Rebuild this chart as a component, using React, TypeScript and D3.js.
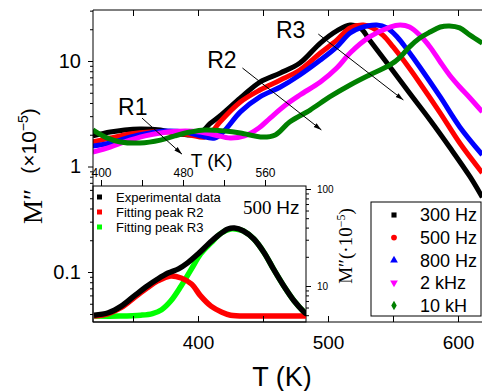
import { useEffect, useRef } from 'react';
import * as d3 from 'd3';

// main panel: M'' (x10^-5) vs T (K) on the inner T axis, one curve per frequency
const hz300 = [[392, 1.95], [409, 2.12], [423, 2.22], [438, 2.27], [458, 2.22], [472, 2.08], [487, 1.99], [497, 2.08], [506, 2.53], [516, 3.01], [536, 4.46], [555, 6.32], [575, 7.7], [594, 9.57], [614, 14.8], [630, 19.3], [643, 21.9], [653, 20.6], [662, 15.8], [682, 8.77], [701, 4.97], [721, 2.76], [740, 1.53], [760, 0.8], [772, 0.51]];
const hz500 = [[392, 1.71], [409, 1.86], [428, 2.03], [448, 2.12], [467, 2.12], [487, 1.99], [501, 1.9], [508, 2.12], [516, 2.64], [536, 4.09], [555, 5.31], [575, 6.6], [594, 8.22], [614, 11.9], [630, 15.8], [643, 20.6], [656, 21.9], [665, 20.6], [675, 17.6], [685, 13.6], [695, 10.2], [711, 6.19], [731, 3.21], [750, 1.67], [772, 0.87]];
const hz800 = [[392, 1.56], [409, 1.67], [428, 1.9], [448, 2.08], [462, 2.17], [482, 2.12], [497, 1.95], [511, 1.86], [521, 2.22], [536, 3.29], [555, 4.56], [575, 5.67], [594, 7.37], [614, 10.2], [630, 13.6], [643, 18.4], [653, 20.6], [669, 21.9], [679, 20.6], [689, 16.9], [699, 12.7], [711, 8.77], [731, 4.56], [750, 2.37], [772, 1.29]];
const khz2 = [[392, 1.37], [409, 1.53], [423, 1.71], [443, 1.95], [458, 2.08], [482, 2.17], [497, 2.12], [511, 1.99], [526, 1.86], [540, 1.95], [554, 2.32], [565, 2.88], [580, 3.83], [594, 4.76], [614, 6.32], [630, 8.58], [643, 11.9], [662, 16.9], [682, 21.0], [692, 21.9], [701, 21.0], [711, 17.6], [721, 13.6], [731, 9.78], [740, 7.37], [750, 5.67], [760, 4.46], [772, 3.29]];
const khz10 = [[392, 2.22], [404, 1.9], [419, 1.71], [438, 1.67], [458, 1.78], [472, 1.95], [487, 2.12], [501, 2.22], [521, 2.17], [536, 2.08], [558, 1.9], [570, 1.99], [584, 2.64], [604, 3.43], [623, 4.56], [643, 5.92], [662, 7.37], [682, 9.17], [692, 10.9], [701, 13.6], [711, 16.5], [721, 18.8], [731, 21.0], [740, 21.5], [750, 20.6], [760, 17.6], [772, 14.8]];
const freqLabels = ['300 Hz', '500 Hz', '800 Hz', '2 kHz', '10 kH'];
const freqColors = ['#000000', '#ff0000', '#0000ff', '#ff00ff', '#008000'];

// inset: 500 Hz fit, M'' (·10^-5) vs T (K)
const expData = [[320, 5.0], [331, 5.3], [341, 6.2], [351, 7.9], [361, 10], [369, 11.8], [377, 13.6], [385, 15.0], [392, 17.3], [400, 21.4], [408, 27.1], [415, 32.8], [423, 38.7], [428, 39.6], [435, 36.9], [443, 30.5], [451, 21.9], [458, 15.0], [466, 10], [474, 7.0], [481, 5.5], [484, 5.1]];
const peakR2 = [[320, 4.9], [331, 5.2], [341, 6.0], [351, 7.6], [361, 9.6], [369, 11.3], [379, 12.7], [387, 12.1], [395, 10.5], [402, 7.9], [410, 6.2], [418, 5.4], [425, 5.0], [440, 4.9], [460, 4.9], [484, 4.9]];
const peakR3 = [[320, 4.9], [340, 4.9], [356, 5.0], [365, 5.2], [372, 5.7], [379, 7.0], [387, 10], [395, 15], [402, 21.4], [410, 27.8], [418, 35.2], [425, 38.7], [430, 38.5], [435, 36.9], [443, 30.5], [451, 21.9], [458, 15.0], [466, 10], [474, 7.0], [481, 5.5], [484, 5.1]];
const insetLabels = ['Experimental data', 'Fitting peak R2', 'Fitting peak R3'];
const insetColors = ['#000000', '#ff0000', '#00ff00'];

// ticks
const xTicks = [350, 400, 450, 500, 550, 600];
const xTickLabels = ['400', '500', '600'];
const yTicks = [0.1, 1, 10];
const yTickLabels = ['0.1', '1', '10'];
const innerTicks = [400, 440, 480, 520, 560];
const innerTickLabels = ['400', '480', '560'];
const insetYTicks = [10, 100];

// arrows [T0, v0, T1, v1] on the inner axis, with their labels
const arrows = [[440, 2.88, 479, 1.31], [538, 8.58, 615, 2.22], [612, 18.0, 695, 4.27]];
const arrowLabels = [['R1', 431, 3.66], ['R2', 518, 10.2], ['R3', 585, 19.7]];

const sans = '"Liberation Sans", Arial, sans-serif';
const serif = '"Liberation Serif", "Times New Roman", serif';

export default function App() {
  const svgRef = useRef(null);

  useEffect(() => {
    const svg = d3.select(svgRef.current);
    svg.selectAll('*').remove();

    const left = 93, top = 10, bottom = 322, right = 482;
    const x = d3.scaleLinear().domain([400, 600]).range([198, 458]);
    const y = d3.scaleLog().domain([0.1, 10]).range([272, 61]);
    const xT = d3.scaleLinear().domain([400, 560]).range([101, 265]);
    const yIn = d3.scaleLog().domain([10, 100]).range([286, 189]);
    const ins = { x0: 93, x1: 306, y0: 186, y1: 322 };

    const defs = svg.append('defs');
    defs.append('clipPath').attr('id', 'clip-main').append('rect')
      .attr('x', left).attr('y', top).attr('width', right - left + 10).attr('height', bottom - top);
    defs.append('clipPath').attr('id', 'clip-in').append('rect')
      .attr('x', ins.x0).attr('y', ins.y0).attr('width', ins.x1 - ins.x0).attr('height', ins.y1 - ins.y0);
    defs.append('marker').attr('id', 'arrow').attr('viewBox', '0 0 10 10')
      .attr('refX', 10).attr('refY', 5).attr('markerWidth', 8).attr('markerHeight', 8)
      .attr('orient', 'auto').append('path').attr('d', 'M0,2L10,5L0,8Z').attr('fill', '#000');

    svg.append('rect').attr('width', 482).attr('height', 391).attr('fill', '#fff');

    const styleAxis = (g, size, family) => {
      g.select('.domain').remove();
      g.selectAll('line').attr('stroke', '#000');
      g.selectAll('text').attr('fill', '#000').style('font-size', size + 'px').style('font-family', family);
    };

    // main curves
    const line = d3.line().x(d => xT(d[0])).y(d => y(d[1])).curve(d3.curveCatmullRom.alpha(0.5));
    const gMain = svg.append('g').attr('clip-path', 'url(#clip-main)');
    [hz300, hz500, hz800, khz2, khz10].forEach((s, i) => {
      gMain.append('path').datum(s)
        .attr('fill', 'none').attr('stroke', freqColors[i]).attr('stroke-width', 5)
        .attr('stroke-linejoin', 'round').attr('d', line);
    });

    // arrows and labels
    arrows.forEach(a => {
      svg.append('line')
        .attr('x1', xT(a[0])).attr('y1', y(a[1])).attr('x2', xT(a[2])).attr('y2', y(a[3]))
        .attr('stroke', '#000').attr('stroke-width', 1).attr('marker-end', 'url(#arrow)');
    });
    arrowLabels.forEach(l => {
      svg.append('text').attr('x', xT(l[1])).attr('y', y(l[2])).attr('dy', '0.36em')
        .attr('text-anchor', 'middle').style('font-family', sans).style('font-size', '23px').text(l[0]);
    });

    // inner T axis
    const gInner = svg.append('g').attr('transform', `translate(0,${ins.y0})`)
      .call(d3.axisTop(xT).tickValues(innerTicks).tickSize(6).tickPadding(3)
        .tickFormat(d => innerTickLabels.includes(String(d)) ? String(d) : ''));
    styleAxis(gInner, 12, sans);
    svg.append('text').attr('x', xT(508)).attr('y', y(1.15)).attr('dy', '0.36em')
      .attr('text-anchor', 'middle').style('font-family', sans).style('font-size', '19px').text('T (K)');

    // inset
    svg.append('rect').attr('x', ins.x0).attr('y', ins.y0).attr('width', ins.x1 - ins.x0).attr('height', ins.y1 - ins.y0)
      .attr('fill', '#fff').attr('stroke', '#000').attr('stroke-width', 1);
    const lineIn = d3.line().x(d => x(d[0])).y(d => yIn(d[1])).curve(d3.curveCatmullRom.alpha(0.5));
    const gIn = svg.append('g').attr('clip-path', 'url(#clip-in)');
    [[peakR3, 2], [peakR2, 1], [expData, 0]].forEach(([s, i]) => {
      gIn.append('path').datum(s).attr('fill', 'none').attr('stroke', insetColors[i])
        .attr('stroke-width', 5.5).attr('d', lineIn);
    });
    const gInY = svg.append('g').attr('transform', `translate(${ins.x1},0)`)
      .call(d3.axisRight(yIn).tickValues(insetYTicks).tickSize(5).tickPadding(6).tickFormat(d3.format('d')));
    styleAxis(gInY, 10, sans);
    const gInYm = svg.append('g').attr('transform', `translate(${ins.x1},0)`)
      .call(d3.axisRight(yIn).tickValues([5, 6, 7, 8, 9, 20, 30, 40, 50, 60, 70, 80, 90]).tickSize(3).tickFormat(() => ''));
    styleAxis(gInYm, 10, sans);
    const rt = svg.append('text').attr('transform', 'translate(352,246) rotate(-90)')
      .attr('text-anchor', 'middle').style('font-family', serif).style('font-size', '19px');
    rt.append('tspan').text('M\u2033(\u00b710');
    rt.append('tspan').attr('dy', -7).style('font-size', '12px').text('\u22125');
    rt.append('tspan').attr('dy', 7).text(')');

    insetLabels.forEach((t, i) => {
      const yy = 197 + i * 15;
      svg.append('rect').attr('x', 97).attr('y', yy - 2.5).attr('width', 5).attr('height', 5).attr('fill', insetColors[i]);
      svg.append('text').attr('x', 116).attr('y', yy).attr('dy', '0.36em')
        .style('font-family', sans).style('font-size', '13px').text(t);
    });
    const hzT = svg.append('text').attr('x', 243).attr('y', 214).style('font-size', '19px');
    hzT.append('tspan').style('font-family', serif).text('500 ');
    hzT.append('tspan').style('font-family', sans).text('Hz');

    // legend
    svg.append('rect').attr('x', 371).attr('y', 202).attr('width', 110).attr('height', 114)
      .attr('fill', '#fff').attr('stroke', '#000').attr('stroke-width', 1);
    const shapes = [d3.symbolSquare, d3.symbolCircle, d3.symbolTriangle, d3.symbolTriangle, d3.symbolDiamond];
    freqLabels.forEach((t, i) => {
      const yy = 215 + i * 22.6;
      svg.append('path').attr('d', d3.symbol(shapes[i], 26)())
        .attr('transform', `translate(394,${yy})${i === 3 ? ' rotate(180)' : ''}`).attr('fill', freqColors[i]);
      svg.append('text').attr('x', 420).attr('y', yy).attr('dy', '0.36em')
        .style('font-family', sans).style('font-size', '18px').text(t);
    });

    // main axes
    const gL = svg.append('g').attr('transform', `translate(${left},0)`)
      .call(d3.axisLeft(y).tickValues(yTicks).tickSize(5).tickPadding(7)
        .tickFormat((d, i) => yTickLabels[i]));
    styleAxis(gL, 20, sans);
    const minorY = [0.04, 0.05, 0.06, 0.07, 0.08, 0.09, 0.2, 0.3, 0.4, 0.5, 0.6, 0.7, 0.8, 0.9, 2, 3, 4, 5, 6, 7, 8, 9, 20, 30];
    const gLm = svg.append('g').attr('transform', `translate(${left},0)`)
      .call(d3.axisLeft(y).tickValues(minorY).tickSize(3).tickFormat(() => ''));
    styleAxis(gLm, 10, sans);

    const gB = svg.append('g').attr('transform', `translate(0,${bottom})`)
      .call(d3.axisBottom(x).tickValues(xTicks).tickSize(-6).tickPadding(14)
        .tickFormat(d => xTickLabels.includes(String(d)) ? String(d) : ''));
    styleAxis(gB, 19, sans);
    const gT = svg.append('g').attr('transform', `translate(0,${top})`)
      .call(d3.axisTop(x).tickValues(xTicks).tickSize(-6).tickFormat(() => ''));
    styleAxis(gT, 10, sans);

    svg.append('path').attr('d', `M${right + 5},${top}H${left}V${bottom}H${right + 5}`)
      .attr('fill', 'none').attr('stroke', '#000').attr('stroke-width', 1);

    // axis titles
    svg.append('text').attr('x', 282).attr('y', 386).attr('text-anchor', 'middle')
      .style('font-family', sans).style('font-size', '27px').text('T (K)');
    svg.append('text').attr('transform', 'translate(42,224) rotate(-90)')
      .style('font-family', serif).style('font-size', '27px').text('M\u2033');
    const yl = svg.append('text').attr('transform', 'translate(36,141) rotate(-90)')
      .attr('text-anchor', 'middle').style('font-family', sans).style('font-size', '21px');
    yl.append('tspan').text('(\u00d710');
    yl.append('tspan').attr('dy', -8).style('font-size', '14px').text('\u22125');
    yl.append('tspan').attr('dy', 8).text(')');
  }, []);

  return (
    <svg ref={svgRef} width={482} height={391}
      style={{ position: 'absolute', left: 0, top: 0, display: 'block' }} />
  );
}
